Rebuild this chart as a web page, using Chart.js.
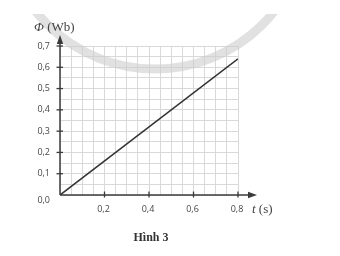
<!DOCTYPE html>
<html><head><meta charset="utf-8">
<script src="https://cdn.jsdelivr.net/npm/chart.js@4/dist/chart.umd.min.js"></script>
<style>html,body{margin:0;padding:0;background:#fff;}canvas{display:block;}</style>
</head><body>
<canvas id="c" width="340" height="256"></canvas>
<script>
const tValues = [0, 0.8];
const phiValues = [0, 0.64];
const xTickValues = [0.2, 0.4, 0.6, 0.8];
const xTickLabels = ['0,2', '0,4', '0,6', '0,8'];
const yTickValues = [0, 0.1, 0.2, 0.3, 0.4, 0.5, 0.6, 0.7];
const yTickLabels = ['0,0', '0,1', '0,2', '0,3', '0,4', '0,5', '0,6', '0,7'];
const yAxisTitle = ['Φ', ' (Wb)'];
const xAxisTitle = ['t', ' (s)'];
const caption = 'Hình 3';

const AX = '#3a3a3a';
const decor = {
  id: 'decor',
  beforeDatasetsDraw(chart) {
    const ctx = chart.ctx;
    ctx.save();
    ctx.beginPath();
    ctx.rect(0, 14, 340, 242);
    ctx.clip();
    ctx.strokeStyle = 'rgba(205,205,205,0.6)';
    ctx.lineWidth = 9;
    ctx.beginPath();
    ctx.arc(155, -83, 152, 0, Math.PI);
    ctx.stroke();
    ctx.restore();
  },
  afterDraw(chart) {
    const ctx = chart.ctx;
    const xs = chart.scales.x, ys = chart.scales.y;
    const x0 = xs.getPixelForValue(0), y0 = ys.getPixelForValue(0);
    const yTop = ys.getPixelForValue(0.7);
    const xEnd = xs.getPixelForValue(0.8);
    ctx.save();
    ctx.strokeStyle = AX; ctx.fillStyle = AX; ctx.lineWidth = 1.5;
    ctx.beginPath(); ctx.moveTo(x0, y0); ctx.lineTo(x0, yTop - 4); ctx.stroke();
    ctx.beginPath(); ctx.moveTo(x0, yTop - 11); ctx.lineTo(x0 - 3.2, yTop - 2); ctx.lineTo(x0 + 3.2, yTop - 2); ctx.closePath(); ctx.fill();
    ctx.beginPath(); ctx.moveTo(x0, y0); ctx.lineTo(xEnd + 12, y0); ctx.stroke();
    ctx.beginPath(); ctx.moveTo(xEnd + 19, y0); ctx.lineTo(xEnd + 10, y0 - 3.2); ctx.lineTo(xEnd + 10, y0 + 3.2); ctx.closePath(); ctx.fill();
    ctx.lineWidth = 1.3;
    yTickValues.forEach(v => { if (v === 0) return; const y = ys.getPixelForValue(v); ctx.beginPath(); ctx.moveTo(x0 - 3.5, y); ctx.lineTo(x0 + 3, y); ctx.stroke(); });
    xTickValues.forEach(v => { const x = xs.getPixelForValue(v); ctx.beginPath(); ctx.moveTo(x, y0 - 3.5); ctx.lineTo(x, y0 + 2.5); ctx.stroke(); });
    ctx.fillStyle = '#474747';
    ctx.font = '9px "Open Sans", sans-serif';
    ctx.textAlign = 'right'; ctx.textBaseline = 'middle';
    yTickValues.forEach((v, i) => { let y = ys.getPixelForValue(v); if (v === 0) y += 5; ctx.fillText(yTickLabels[i], x0 - 10, y); });
    ctx.textAlign = 'center';
    xTickValues.forEach((v, i) => { ctx.fillText(xTickLabels[i], xs.getPixelForValue(v) - 1, y0 + 14); });
    ctx.fillStyle = '#444';
    ctx.textAlign = 'left'; ctx.textBaseline = 'alphabetic';
    ctx.font = 'italic 13px "Liberation Serif", serif';
    ctx.fillText(yAxisTitle[0], 34, 31);
    let w = ctx.measureText(yAxisTitle[0]).width;
    ctx.font = '13px "Liberation Serif", serif';
    ctx.fillText(yAxisTitle[1], 34 + w, 31);
    ctx.font = 'italic 13px "Liberation Serif", serif';
    ctx.fillText(xAxisTitle[0], 252, y0 + 18);
    w = ctx.measureText(xAxisTitle[0]).width;
    ctx.font = '13px "Liberation Serif", serif';
    ctx.fillText(xAxisTitle[1], 252 + w, y0 + 18);
    ctx.fillStyle = '#333';
    ctx.font = 'bold 12px "Liberation Serif", serif';
    ctx.textAlign = 'center';
    ctx.fillText(caption, 151, 241);
    ctx.restore();
  }
};

new Chart(document.getElementById('c'), {
  type: 'line',
  data: {
    datasets: [{
      data: tValues.map((t, i) => ({ x: t, y: phiValues[i] })),
      borderColor: '#333',
      borderWidth: 1.6,
      pointRadius: 0,
      fill: false,
      tension: 0
    }]
  },
  options: {
    responsive: false,
    devicePixelRatio: 1,
    animation: false,
    layout: { padding: { left: 60, right: 102, top: 46, bottom: 61 } },
    plugins: { legend: { display: false }, tooltip: { enabled: false } },
    scales: {
      x: {
        type: 'linear', min: 0, max: 0.8,
        ticks: { display: false, stepSize: 0.05 },
        border: { display: false },
        grid: { color: '#d9d9d9', lineWidth: 1, drawTicks: false }
      },
      y: {
        type: 'linear', min: 0, max: 0.7,
        ticks: { display: false, stepSize: 0.05 },
        border: { display: false },
        grid: { color: '#d9d9d9', lineWidth: 1, drawTicks: false }
      }
    }
  },
  plugins: [decor]
});
</script>
</body></html>
